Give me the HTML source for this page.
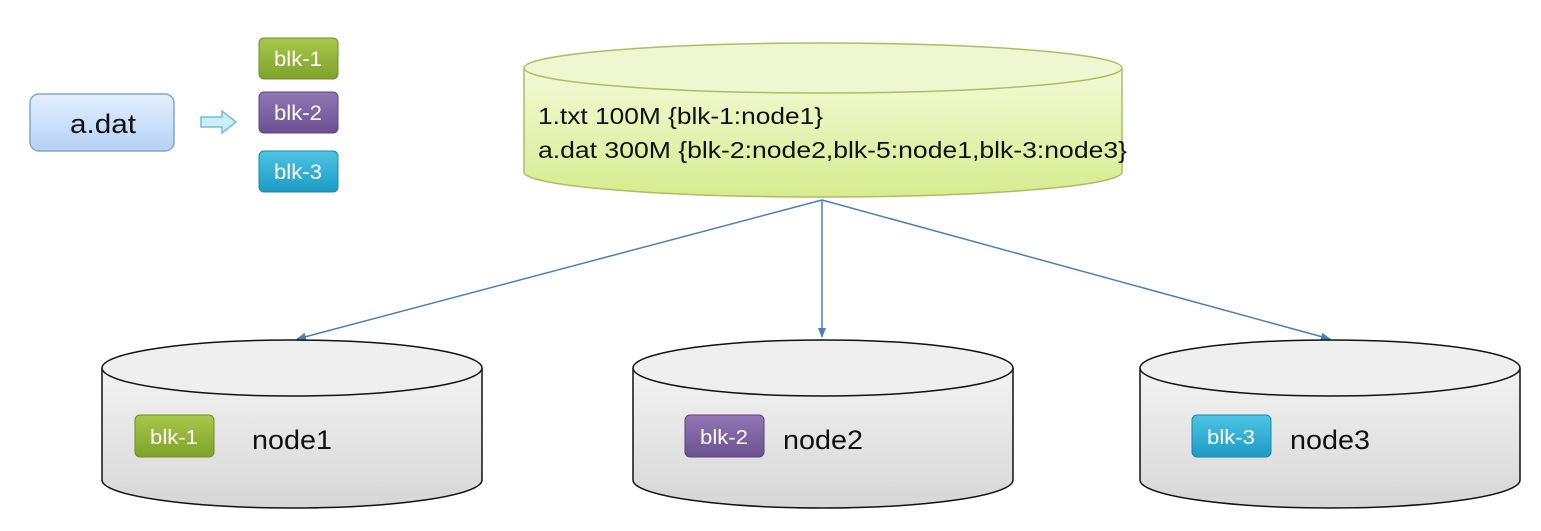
<!DOCTYPE html>
<html><head><meta charset="utf-8"><style>
body{margin:0;background:#fff;}
svg{display:block;font-family:"Liberation Sans",sans-serif;}
</style></head><body>
<svg width="1541" height="531" viewBox="0 0 1541 531">
<defs>
<linearGradient id="gY" x1="0" y1="0" x2="0" y2="1"><stop offset="0" stop-color="#f3fad8"/><stop offset="1" stop-color="#d6ec8e"/></linearGradient>
<linearGradient id="gG" x1="0" y1="0" x2="0" y2="1"><stop offset="0" stop-color="#f3f3f3"/><stop offset="1" stop-color="#d6d6d6"/></linearGradient>
<linearGradient id="gB" x1="0" y1="0" x2="0" y2="1"><stop offset="0" stop-color="#e4effd"/><stop offset="1" stop-color="#b5d2f5"/></linearGradient>
<linearGradient id="g1" x1="0" y1="0" x2="0" y2="1"><stop offset="0" stop-color="#a8c84a"/><stop offset="1" stop-color="#7fa22a"/></linearGradient>
<linearGradient id="g2" x1="0" y1="0" x2="0" y2="1"><stop offset="0" stop-color="#9276b4"/><stop offset="1" stop-color="#6c5190"/></linearGradient>
<linearGradient id="g3" x1="0" y1="0" x2="0" y2="1"><stop offset="0" stop-color="#4cc3e4"/><stop offset="1" stop-color="#1e9cc4"/></linearGradient>
<marker id="ar" markerWidth="10" markerHeight="8" refX="9" refY="4" orient="auto" markerUnits="userSpaceOnUse"><path d="M0,0 L10,4 L0,8 Z" fill="#4a7ebb"/></marker>
</defs>

<rect x="30" y="94" width="144" height="57" rx="9" fill="url(#gB)" stroke="#7ea6d8" stroke-width="1.5"/>
<text x="70" y="133" font-size="27" textLength="66" lengthAdjust="spacingAndGlyphs" fill="#111">a.dat</text>
<path d="M201,117 H222 V111 L236,122 L222,133 V127 H201 Z" fill="#cdeef8" stroke="#6bbfd8" stroke-width="1.5"/>

<rect x="259" y="38" width="79" height="41" rx="5" fill="url(#g1)" stroke="#6f8f25"/>
<text x="274" y="66" font-size="21" textLength="48" lengthAdjust="spacingAndGlyphs" fill="#fff">blk-1</text>
<rect x="259" y="92" width="79" height="41" rx="5" fill="url(#g2)" stroke="#5b4380"/>
<text x="274" y="120" font-size="21" textLength="48" lengthAdjust="spacingAndGlyphs" fill="#fff">blk-2</text>
<rect x="259" y="151" width="79" height="41" rx="5" fill="url(#g3)" stroke="#1a88ad"/>
<text x="274" y="179" font-size="21" textLength="48" lengthAdjust="spacingAndGlyphs" fill="#fff">blk-3</text>

<path d="M524,68 V172 A299,25 0 0 0 1122,172 V68" fill="url(#gY)" stroke="#a8c060" stroke-width="1.5"/>
<ellipse cx="823" cy="68" rx="299" ry="25" fill="#eef7cf" stroke="#a8c060" stroke-width="1.5"/>
<text x="538" y="124" font-size="23" textLength="285" lengthAdjust="spacingAndGlyphs" fill="#111">1.txt 100M {blk-1:node1}</text>
<text x="538" y="158" font-size="23" textLength="589" lengthAdjust="spacingAndGlyphs" fill="#111">a.dat 300M {blk-2:node2,blk-5:node1,blk-3:node3}</text>

<g stroke="#4a7ebb" stroke-width="1.5" fill="none">
<line x1="822" y1="200" x2="297" y2="339" marker-end="url(#ar)"/>
<line x1="822" y1="200" x2="822" y2="337" marker-end="url(#ar)"/>
<line x1="822" y1="200" x2="1330" y2="339" marker-end="url(#ar)"/>
</g>

<g stroke="#111" stroke-width="1.5">
<path d="M102,368 V480 A190,28 0 0 0 482,480 V368" fill="url(#gG)"/>
<ellipse cx="292" cy="368" rx="190" ry="28" fill="#efefef"/>
<path d="M633,368 V480 A190,28 0 0 0 1013,480 V368" fill="url(#gG)"/>
<ellipse cx="823" cy="368" rx="190" ry="28" fill="#efefef"/>
<path d="M1140,368 V480 A190,28 0 0 0 1520,480 V368" fill="url(#gG)"/>
<ellipse cx="1330" cy="368" rx="190" ry="28" fill="#efefef"/>
</g>

<rect x="135" y="415" width="79" height="42" rx="5" fill="url(#g1)" stroke="#6f8f25"/>
<text x="150" y="444" font-size="20" textLength="48" lengthAdjust="spacingAndGlyphs" fill="#fff">blk-1</text>
<text x="252" y="449" font-size="27" textLength="80" lengthAdjust="spacingAndGlyphs" fill="#111">node1</text>
<rect x="685" y="415" width="79" height="42" rx="5" fill="url(#g2)" stroke="#5b4380"/>
<text x="700" y="444" font-size="20" textLength="48" lengthAdjust="spacingAndGlyphs" fill="#fff">blk-2</text>
<text x="783" y="449" font-size="27" textLength="80" lengthAdjust="spacingAndGlyphs" fill="#111">node2</text>
<rect x="1192" y="415" width="79" height="42" rx="5" fill="url(#g3)" stroke="#1a88ad"/>
<text x="1207" y="444" font-size="20" textLength="48" lengthAdjust="spacingAndGlyphs" fill="#fff">blk-3</text>
<text x="1290" y="449" font-size="27" textLength="80" lengthAdjust="spacingAndGlyphs" fill="#111">node3</text>
</svg>
</body></html>
